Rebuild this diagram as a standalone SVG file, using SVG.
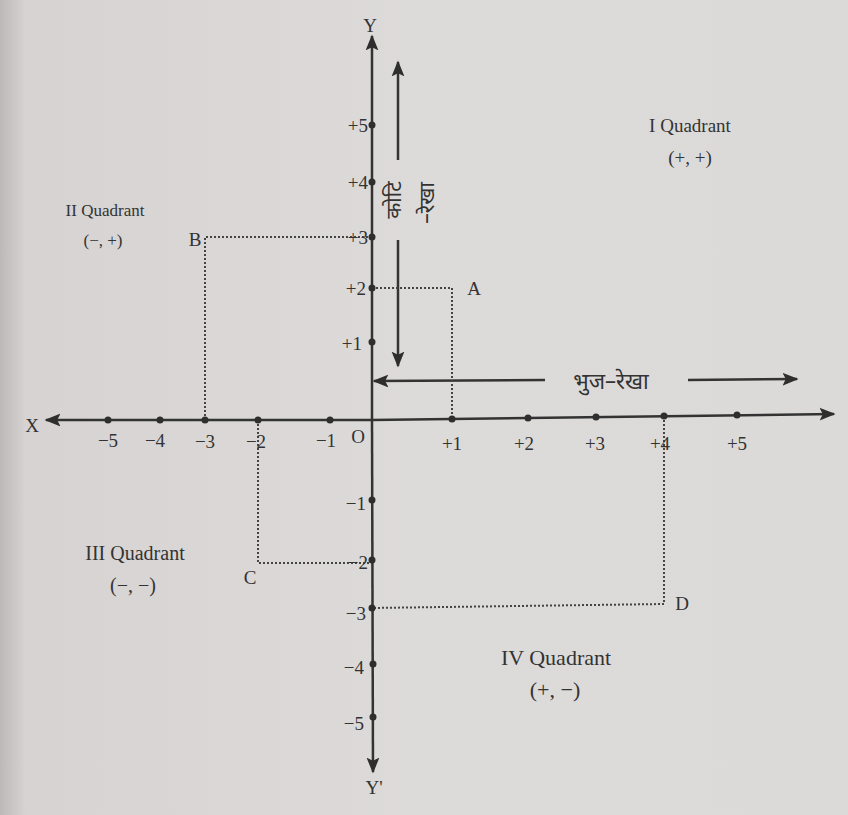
<svg xmlns="http://www.w3.org/2000/svg" width="848" height="815" viewBox="0 0 848 815">
<defs>
<linearGradient id="bg" x1="0" y1="0" x2="1" y2="0">
<stop offset="0" stop-color="#bdb9b8"/>
<stop offset="0.03" stop-color="#d6d3d2"/>
<stop offset="0.5" stop-color="#dddbda"/>
<stop offset="1" stop-color="#dcdad9"/>
</linearGradient>
<marker id="ah2" viewBox="0 0 10 10" refX="9" refY="5" markerWidth="16" markerHeight="16" markerUnits="userSpaceOnUse" orient="auto">
<path d="M0,1 L10,5 L0,9 L2,5 z" fill="#2e2e2e"/>
</marker>
</defs>
<style>
.ax{stroke:#333;stroke-width:2.5;fill:none}
.ar{stroke:#333;stroke-width:2.5;fill:none}
.dash{stroke:#444;stroke-width:2;stroke-dasharray:2 2;fill:none}
.dot{fill:#2e2e2e}
text{font-family:"Liberation Serif","Times New Roman",serif;fill:#333;font-size:19px}
.hi{font-family:"Noto Sans Devanagari","Lohit Devanagari","Noto Sans",sans-serif;font-size:22px}
.m{text-anchor:middle}
.e{text-anchor:end}
</style>
<rect width="848" height="815" fill="url(#bg)"/>
<g id="connectors">
<line class="ax" x1="372" y1="420" x2="46" y2="420" marker-end="url(#ah2)"/>
<line class="ax" x1="372" y1="420" x2="834" y2="414" marker-end="url(#ah2)"/>
<line class="ax" x1="372" y1="420" x2="372" y2="36" marker-end="url(#ah2)"/>
<line class="ax" x1="372" y1="420" x2="373" y2="772" marker-end="url(#ah2)"/>
<line class="ar" x1="398" y1="160" x2="398" y2="62" marker-end="url(#ah2)"/>
<line class="ar" x1="398" y1="240" x2="398" y2="366" marker-end="url(#ah2)"/>
<line class="ar" x1="545" y1="380" x2="374" y2="381" marker-end="url(#ah2)"/>
<line class="ar" x1="688" y1="380" x2="797" y2="379" marker-end="url(#ah2)"/>
<polyline class="dash" points="372,237 205,237 205,420"/>
<polyline class="dash" points="372,288 452,288 452,419"/>
<polyline class="dash" points="258,420 258,563 372,563"/>
<polyline class="dash" points="664,416 664,604 372,608"/>
</g>
<g id="ticks">
<circle class="dot" cx="108" cy="420" r="3.5"/>
<circle class="dot" cx="160" cy="420" r="3.5"/>
<circle class="dot" cx="205" cy="420" r="3.5"/>
<circle class="dot" cx="258" cy="420" r="3.5"/>
<circle class="dot" cx="330" cy="420" r="3.5"/>
<circle class="dot" cx="452" cy="419" r="3.5"/>
<circle class="dot" cx="528" cy="418" r="3.5"/>
<circle class="dot" cx="596" cy="417" r="3.5"/>
<circle class="dot" cx="664" cy="416" r="3.5"/>
<circle class="dot" cx="737" cy="415" r="3.5"/>
<circle class="dot" cx="372" cy="125" r="3.5"/>
<circle class="dot" cx="372" cy="182" r="3.5"/>
<circle class="dot" cx="372" cy="237" r="3.5"/>
<circle class="dot" cx="372" cy="288" r="3.5"/>
<circle class="dot" cx="372" cy="342" r="3.5"/>
<circle class="dot" cx="372" cy="500" r="3.5"/>
<circle class="dot" cx="372" cy="560" r="3.5"/>
<circle class="dot" cx="372" cy="608" r="3.5"/>
<circle class="dot" cx="373" cy="664" r="3.5"/>
<circle class="dot" cx="373" cy="717" r="3.5"/>
</g>
<g id="axis-labels">
<text x="370" y="32" class="m">Y</text>
<text x="374" y="794" class="m">Y'</text>
<text x="32" y="432" class="m">X</text>
<text x="358" y="443" class="m">O</text>
<text x="108" y="447" class="m">−5</text>
<text x="155" y="447" class="m">−4</text>
<text x="205" y="448" class="m">−3</text>
<text x="256" y="448" class="m">−2</text>
<text x="326" y="447" class="m">−1</text>
<text x="452" y="450" class="m">+1</text>
<text x="524" y="450" class="m">+2</text>
<text x="595" y="450" class="m">+3</text>
<text x="660" y="450" class="m">+4</text>
<text x="737" y="450" class="m">+5</text>
<text x="368" y="132" class="e">+5</text>
<text x="368" y="189" class="e">+4</text>
<text x="368" y="244" class="e">+3</text>
<text x="366" y="295" class="e">+2</text>
<text x="362" y="350" class="e">+1</text>
<text x="366" y="510" class="e">−1</text>
<text x="368" y="569" class="e">−2</text>
<text x="366" y="620" class="e">−3</text>
<text x="364" y="674" class="e">−4</text>
<text x="364" y="730" class="e">−5</text>
</g>
<g id="point-A"><text x="474" y="295" class="m">A</text></g>
<g id="point-B"><text x="195" y="246" class="m">B</text></g>
<g id="point-C"><text x="250" y="584" class="m">C</text></g>
<g id="point-D"><text x="682" y="610" class="m">D</text></g>
<g id="quadrant-I"><text x="690" y="132" class="m">I Quadrant</text><text x="690" y="164" class="m">(+, +)</text></g>
<g id="quadrant-II"><text x="105" y="216" class="m" style="font-size:17px">II Quadrant</text><text x="103" y="246" class="m" style="font-size:17px">(−, +)</text></g>
<g id="quadrant-III"><text x="135" y="560" class="m" style="font-size:20px">III Quadrant</text><text x="133" y="592" class="m" style="font-size:20px">(−, −)</text></g>
<g id="quadrant-IV"><text x="556" y="665" class="m" style="font-size:22px">IV Quadrant</text><text x="555" y="697" class="m" style="font-size:22px">(+, −)</text></g>
<g id="koti-rekha">
<text class="hi m" transform="translate(401,200) rotate(-90)" style="font-size:21px">कोटि</text>
<text class="hi m" transform="translate(434,203) rotate(-90)" style="font-size:21px">–रेखा</text>
</g>
<g id="bhuj-rekha"><text class="hi m" x="611" y="389">भुज–रेखा</text></g>
</svg>
